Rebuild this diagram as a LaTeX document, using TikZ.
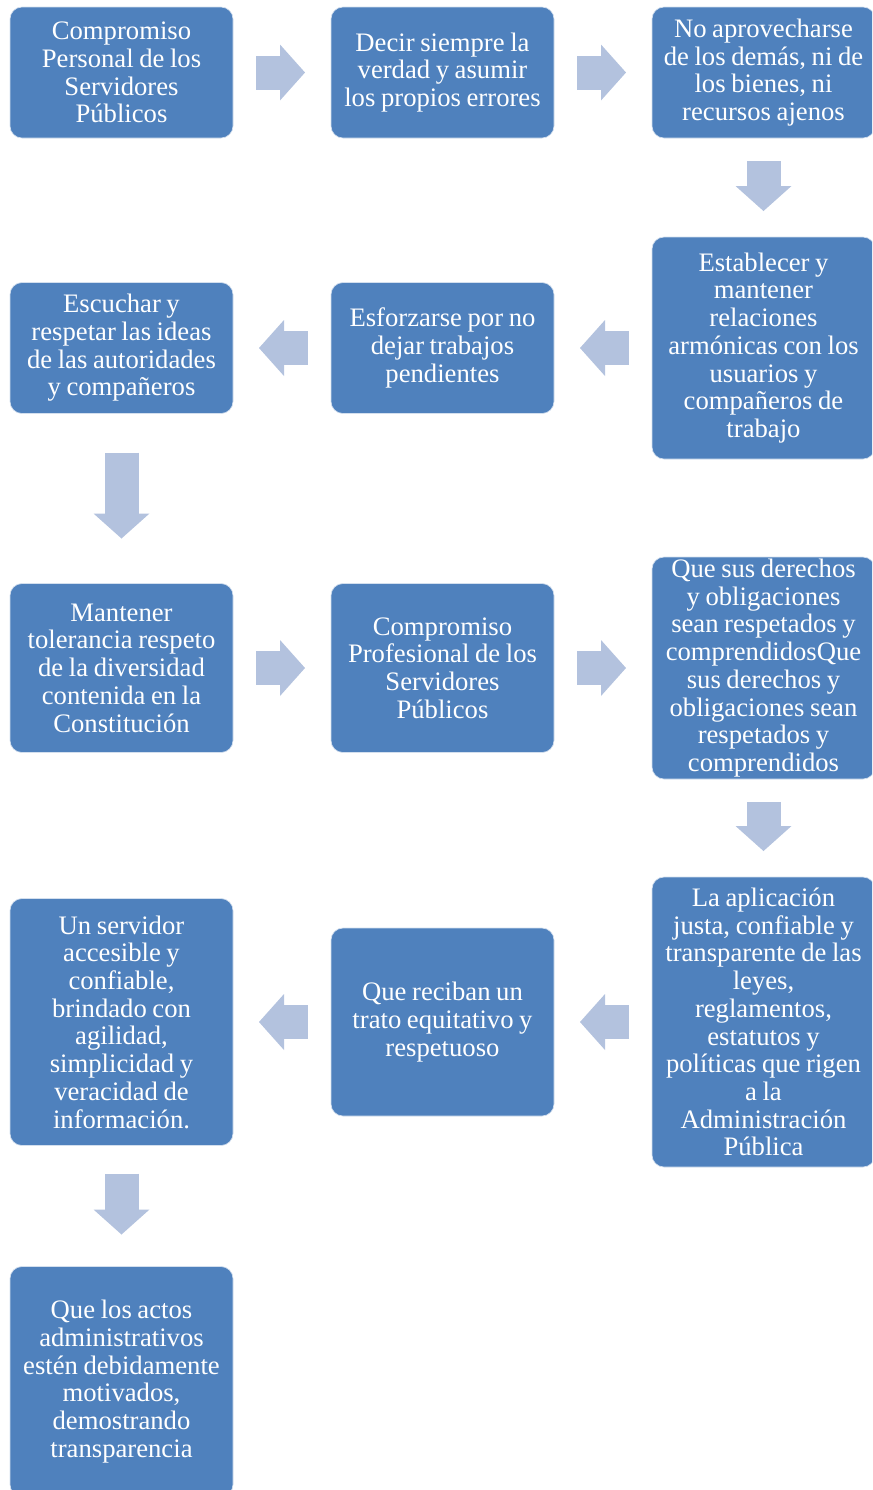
\documentclass[tikz,border=0pt]{standalone}
\usepackage{fontspec}
\setmainfont{Liberation Serif}
\usepackage{tikz}
\usetikzlibrary{arrows.meta,positioning}
\definecolor{boxblue}{HTML}{4F81BD}
\definecolor{arrowblue}{HTML}{B3C2DE}
\tikzset{
    stepbox/.style={fill=boxblue,draw=white!75!boxblue,line width=0.5pt,rounded corners=9pt,
      minimum width=167.25pt,text width=165pt,inner sep=0pt,outer sep=0pt,
      text=white,align=center,font=\fontsize{20pt}{20.8pt}\selectfont,
      execute at begin node={\spaceskip=4.2pt\relax}},
    flowarrow/.style={draw=arrowblue,line width=25.5pt,
      -{Triangle[width=42pt,length=18.75pt,line width=0pt]},
      shorten <=17.5pt,shorten >=19.5pt}
}

\begin{document}
\begin{tikzpicture}[x=0.75pt,y=-0.75pt,node distance=73.5pt]
  \useasboundingbox (0,0) rectangle (872,1490);
  \clip (0,0) rectangle (872,1490);
  % first row
  \node[stepbox,minimum height=98.25pt] (per) at (121.5,72.5)
    {Compromiso\\Personal de los\\Servidores\\Públicos};
  \node[stepbox,minimum height=98.25pt,right=of per] (ver)
    {Decir siempre la\\verdad y asumir\\los propios errores};
  \node[stepbox,minimum height=98.25pt,right=of ver] (apr)
    {No aprovecharse\\de los demás, ni de\\los bienes, ni\\recursos ajenos};
  % second row
  \node[stepbox,minimum height=166.5pt,below=74.25pt of apr] (rel)
    {Establecer y\\mantener\\relaciones\\armónicas con los\\usuarios y\\compañeros de\\trabajo};
  \node[stepbox,minimum height=98.25pt,left=of rel] (esf)
    {Esforzarse por no\\dejar trabajos\\pendientes};
  \node[stepbox,minimum height=98.25pt,left=of esf] (esc)
    {Escuchar y\\respetar las ideas\\de las autoridades\\y compañeros};
  % third row
  \node[stepbox,minimum height=126.75pt,below=127.5pt of esc] (tol)
    {Mantener\\tolerancia respeto\\de la diversidad\\contenida en la\\Constitución};
  \node[stepbox,minimum height=126.75pt,right=of tol] (pro)
    {Compromiso\\Profesional de los\\Servidores\\Públicos};
  \node[stepbox,minimum height=166.5pt,right=of pro] (der)
    {Que sus derechos\\y obligaciones\\sean respetados y\\comprendidosQue\\sus derechos y\\obligaciones sean\\respetados y\\comprendidos};
  % fourth row
  \node[stepbox,minimum height=217.5pt,below=of der] (ley)
    {La aplicación\\justa, confiable y\\transparente de las\\leyes,\\reglamentos,\\estatutos y\\políticas que rigen\\a la\\Administración\\Pública};
  \node[stepbox,minimum height=141pt,left=of ley] (tra)
    {Que reciban un\\trato equitativo y\\respetuoso};
  \node[stepbox,minimum height=185.25pt,left=of tra] (ser)
    {Un servidor\\accesible y\\confiable,\\brindado con\\agilidad,\\simplicidad y\\veracidad de\\información.};
  % last box
  \node[stepbox,minimum height=172.5pt,below=90.75pt of ser] (act)
    {Que los actos\\administrativos\\estén debidamente\\motivados,\\demostrando\\transparencia};
  \foreach \a/\b in {per/ver,ver/apr,apr/rel,rel/esf,esf/esc,tol/pro,pro/der,der/ley,ley/tra,tra/ser}
    \draw[flowarrow] (\a) -- (\b);
  \draw[flowarrow,shorten <=29.25pt,shorten >=33.75pt] (esc) -- (tol);
  \draw[flowarrow,shorten <=21pt,shorten >=24pt] (ser) -- (act);
\end{tikzpicture}
\end{document}
